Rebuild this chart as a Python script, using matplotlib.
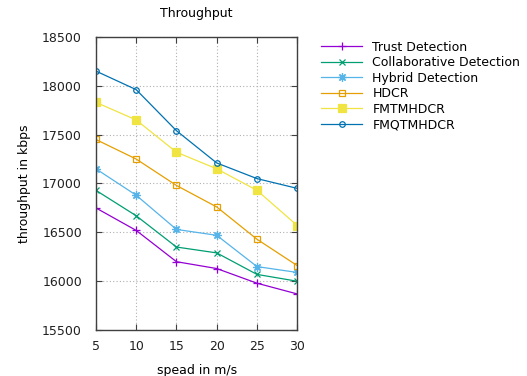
import matplotlib
matplotlib.use("Agg")
import matplotlib.pyplot as plt

# --- DATA ---
speed = [5, 10, 15, 20, 25, 30]
trust = [16750, 16520, 16200, 16130, 15980, 15870]
collab = [16930, 16670, 16350, 16290, 16070, 16000]
hybrid = [17150, 16880, 16530, 16470, 16150, 16090]
hdcr = [17450, 17250, 16980, 16760, 16430, 16160]
fmtmhdcr = [17830, 17650, 17320, 17150, 16930, 16570]
fmqtmhdcr = [18150, 17960, 17540, 17210, 17050, 16950]

# name, values, colour, marker, face, size
series = [
    ("Trust Detection", trust, "#9400d3", "+", "#9400d3", 6),
    ("Collaborative Detection", collab, "#009e73", "x", "#009e73", 5),
    ("Hybrid Detection", hybrid, "#56b4e9", (8, 2, 0), "#56b4e9", 6),
    ("HDCR", hdcr, "#e69f00", "s", "none", 5),
    ("FMTMHDCR", fmtmhdcr, "#f0e442", "s", "#f0e442", 5.5),
    ("FMQTMHDCR", fmqtmhdcr, "#0072b2", "o", "none", 4),
]

plt.rcParams['font.family'] = ['DejaVu Sans']
fig = plt.figure(figsize=(5.27, 3.76), dpi=100)
ax = fig.add_axes([0.182, 0.122, 0.382, 0.780])

for name, vals, col, mk, fc, ms in series:
    ax.plot(speed, vals, color=col, lw=0.9, marker=mk, markersize=ms,
            markerfacecolor=fc, markeredgecolor=col, markeredgewidth=0.9, label=name)

ax.set_xlim(5, 30)
ax.set_ylim(15500, 18500)
ax.set_xticks(speed)
ax.set_yticks([15500, 16000, 16500, 17000, 17500, 18000, 18500])
ax.grid(True, color="#b0b0b0", linestyle=(0, (1, 2)), lw=0.8)
ax.tick_params(direction="in", top=True, right=True, labelsize=9, colors="#404040",
               labelcolor="#202020", length=4)
ax.tick_params(axis="y", pad=10)
ax.tick_params(axis="x", pad=7)
for s in ax.spines.values():
    s.set_color("#404040")
    s.set_linewidth(1.0)

ax.set_title("Throughput", fontsize=9, pad=14)
ax.set_xlabel("spead in m/s", fontsize=9, labelpad=8)
ax.set_ylabel("throughput in kbps", fontsize=9, labelpad=8)

fig.legend(loc="upper left", bbox_to_anchor=(0.6, 0.905), frameon=False, fontsize=9,
           handlelength=3.3, labelspacing=0.2, handletextpad=0.8, borderaxespad=0)

fig.savefig("out.png", dpi=100)
